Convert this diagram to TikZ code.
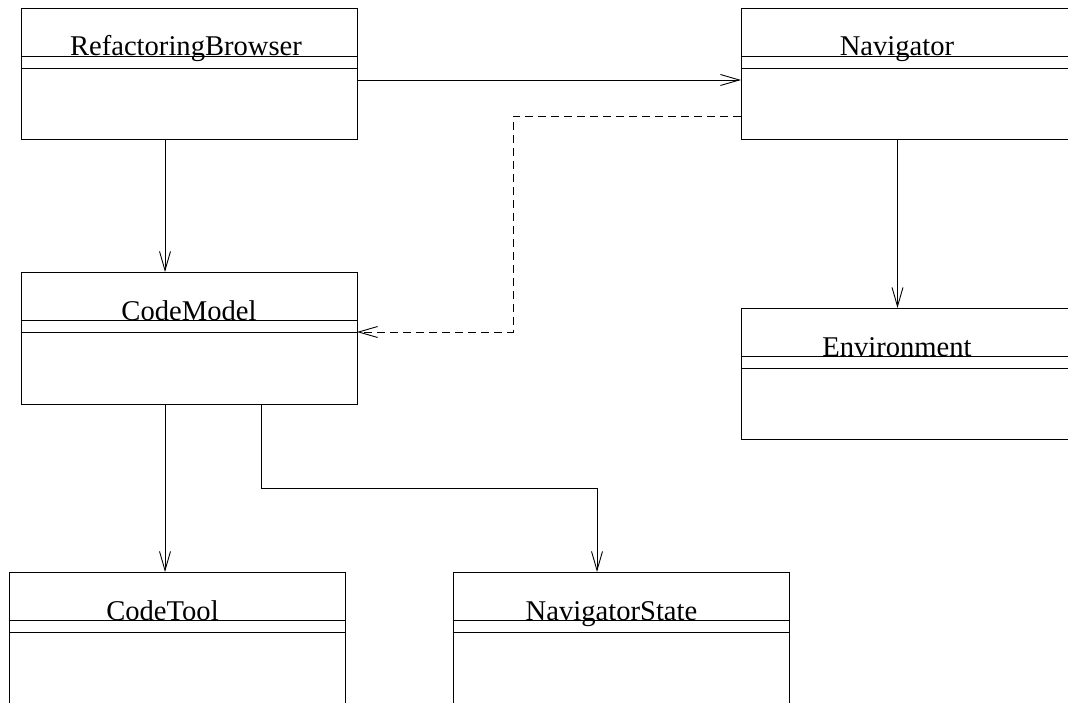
\documentclass[tikz,border=0pt]{standalone}
\usepackage{fontspec}
\setmainfont{Liberation Serif}
\usetikzlibrary{arrows.meta}
\begin{document}
\begin{tikzpicture}[x=1pt,y=-1pt,line width=0.9pt,
	classbox/.style={draw,rectangle,inner sep=0,outer sep=0,anchor=north west,minimum width=336pt,minimum height=131pt},
	classname/.style={anchor=base,inner sep=0,font=\fontsize{28.6}{30}\selectfont},
	assoc/.style={-{Straight Barb[length=19pt,width=11pt,line width=0.9pt]}},
	depend/.style={assoc,dash pattern=on 8pt off 5pt}]
	\useasboundingbox (0,0) rectangle (1068,703);
	\clip (0,0) rectangle (1068,703);
	\node[classbox] at (21,8) (rb) {};
	\node[classbox] at (741,8) (nav) {};
	\node[classbox,minimum height=132pt] at (21,272) (cm) {};
	\node[classbox] at (741,308) (env) {};
	\node[classbox] at (9,572) (ct) {};
	\node[classbox] at (453,572) (ns) {};
	
	\node[classname] at (186,56) (rbname) {RefactoringBrowser};
	\node[classname] at (897,56) (navname) {Navigator};
	\node[classname] at (189,320) (cmname) {CodeModel};
	\node[classname] at (897,356) (envname) {Environment};
	\node[classname] at (162.5,620) (ctname) {CodeTool};
	\node[classname] at (611.5,620) (nsname) {NavigatorState};
	
	\foreach \n in {rb,nav,cm,env,ct,ns} {
		\draw ([yshift=-48pt]\n.north west) -- ([yshift=-48pt]\n.north east);
		\draw ([yshift=-60pt]\n.north west) -- ([yshift=-60pt]\n.north east);
	}
	
	\draw[assoc] ([yshift=-6.5pt]rb.east) -- ([yshift=-6.5pt]nav.west);
	\draw[assoc] ([xshift=-24pt]rb.south) -- ([xshift=-24pt]cm.north);
	\draw[assoc] ([xshift=-11.5pt]nav.south) -- ([xshift=-11.5pt]env.north);
	\draw[assoc] ([xshift=-24pt]cm.south) -- ([xshift=-12pt]ct.north);
	\draw[assoc] ([xshift=72pt]cm.south) -- ++(0,84) -| ([xshift=-24pt]ns.north);
	\draw[depend] ([yshift=-42.5pt]nav.west) -- ++(-228,0) |- ([yshift=6pt]cm.east);
\end{tikzpicture}
\end{document}
